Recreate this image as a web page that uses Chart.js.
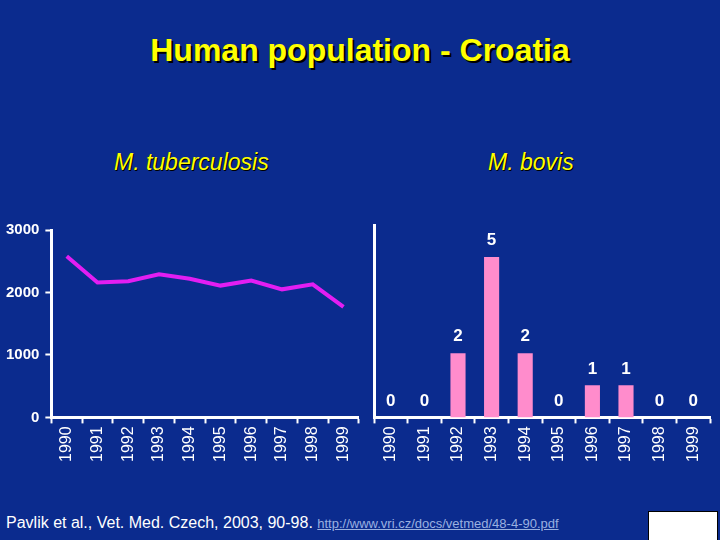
<!DOCTYPE html>
<html>
<head>
<meta charset="utf-8">
<script src="https://cdn.jsdelivr.net/npm/chart.js@4"></script>
<style>
  body { margin:0; width:720px; height:540px; background:#0b2b8e; position:relative; overflow:hidden; font-family:"Liberation Sans", Arial, sans-serif; }
  .title { position:absolute; top:32px; left:0; width:720px; text-align:center; color:#ffff00; font-weight:bold; font-size:32px; text-shadow:2px 2px 0 #000; }
  .sub { position:absolute; top:149px; color:#ffff00; font-style:italic; font-size:23px; text-shadow:1px 1px 0 #000; }
  #c1 { position:absolute; left:0; top:215px; }
  #c2 { position:absolute; left:366px; top:215px; }
  .foot { position:absolute; left:6px; top:514px; color:#fff; font-size:16px; }
  .foot a { color:#9ab0e0; font-size:13px; text-decoration:underline; }
  .logo { position:absolute; left:648px; top:511px; width:68px; height:34px; background:#fff; border:1px solid #000; }
</style>
</head>
<body>
<div class="title">Human population - Croatia</div>
<div class="sub" style="left:114px">M. tuberculosis</div>
<div class="sub" style="left:488px">M. bovis</div>
<canvas id="c1" width="366" height="250"></canvas>
<canvas id="c2" width="350" height="250"></canvas>
<div class="foot">Pavlik et al., Vet. Med. Czech, 2003, 90-98. <a>http://www.vri.cz/docs/vetmed/48-4-90.pdf</a></div>
<div class="logo"></div>
<script>
const years = ['1990','1991','1992','1993','1994','1995','1996','1997','1998','1999'];
const tuberculosis = [2580, 2160, 2180, 2290, 2220, 2110, 2190, 2050, 2130, 1770];
const bovis = [0, 0, 2, 5, 2, 0, 1, 1, 0, 0];

Chart.defaults.font.family = '"Liberation Sans", Arial, sans-serif';
Chart.defaults.color = '#ffffff';

function xAxis() {
  return {
    offset: true,
    grid: { offset: true, drawOnChartArea: false, color: '#ffffff', tickLength: 6, tickWidth: 2 },
    border: { color: '#ffffff', width: 3 },
    ticks: { color: '#ffffff', font: { size: 16 }, maxRotation: 90, minRotation: 90, autoSkip: false }
  };
}

new Chart(document.getElementById('c1'), {
  type: 'line',
  data: { labels: years, datasets: [{ data: tuberculosis, borderColor: '#e21ef2', borderWidth: 4, pointRadius: 0, tension: 0 }] },
  options: {
    responsive: false, animation: false,
    layout: { padding: { top: 3, right: 6 } },
    plugins: { legend: { display: false }, tooltip: { enabled: false } },
    scales: {
      x: xAxis(),
      y: {
        min: 0, max: 3000,
        ticks: { stepSize: 1000, color: '#ffffff', font: { size: 15, weight: 'bold' }, padding: 6, callback: v => String(v) },
        grid: { drawOnChartArea: false, color: '#ffffff', tickLength: 6, tickWidth: 2 },
        border: { color: '#ffffff', width: 3 }
      }
    }
  }
});

const barLabels = {
  id: 'barLabels',
  afterDatasetsDraw(chart) {
    const ctx = chart.ctx;
    const meta = chart.getDatasetMeta(0);
    ctx.save();
    ctx.fillStyle = '#ffffff';
    ctx.font = 'bold 17px "Liberation Sans", Arial, sans-serif';
    ctx.textAlign = 'center';
    ctx.textBaseline = 'bottom';
    meta.data.forEach((bar, i) => {
      ctx.fillText(String(bovis[i]), bar.x, bar.y - 8);
    });
    ctx.restore();
  }
};

new Chart(document.getElementById('c2'), {
  type: 'bar',
  data: { labels: years, datasets: [{ data: bovis, backgroundColor: '#ff8ccc', barPercentage: 0.45, categoryPercentage: 1 }] },
  plugins: [barLabels],
  options: {
    responsive: false, animation: false,
    layout: { padding: { top: 10, right: 6 } },
    plugins: { legend: { display: false }, tooltip: { enabled: false } },
    scales: {
      x: xAxis(),
      y: {
        min: 0, max: 6,
        ticks: { display: false },
        grid: { display: false },
        border: { color: '#ffffff', width: 3 }
      }
    }
  }
});
</script>
</body>
</html>
